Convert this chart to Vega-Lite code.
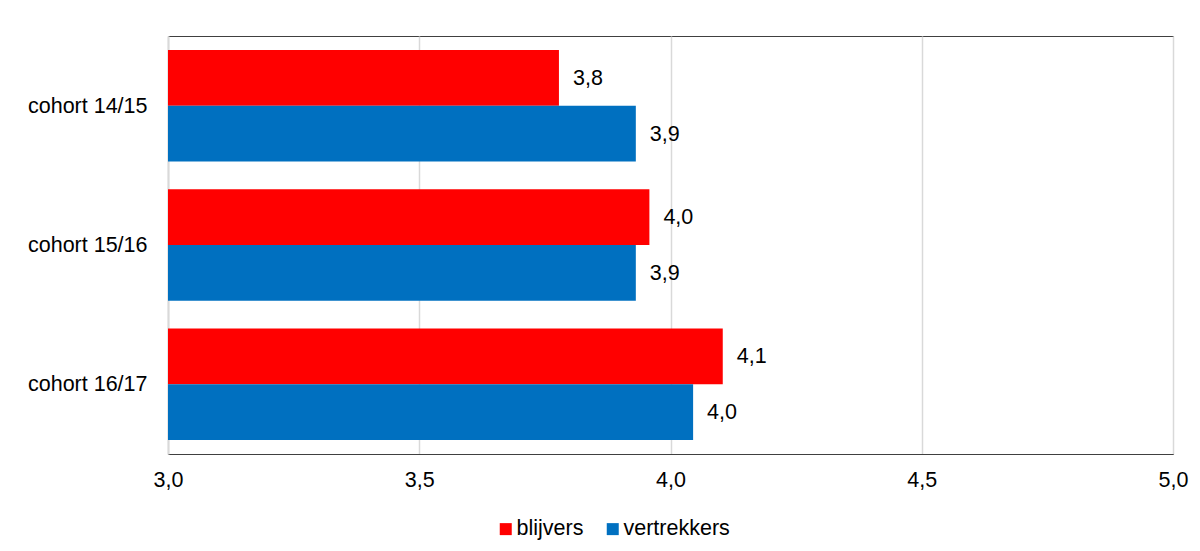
{
  "$schema": "https://vega.github.io/schema/vega-lite/v6.json",
  "autosize": {"type": "none"},
  "width": 1005,
  "height": 418,
  "padding": {"left": 168, "top": 36, "right": 27, "bottom": 97},
  "background": "white",
  "config": {
    "locale": {"number": {"decimal": ",", "thousands": ".", "grouping": [3], "currency": ["€", ""]}},
    "font": "Liberation Sans",
    "view": {"stroke": "#404040", "strokeWidth": 1}
  },
  "data": {
    "values": [
      {"cohort": "cohort 14/15", "groep": "blijvers", "waarde": 3.778},
      {"cohort": "cohort 14/15", "groep": "vertrekkers", "waarde": 3.931},
      {"cohort": "cohort 15/16", "groep": "blijvers", "waarde": 3.958},
      {"cohort": "cohort 15/16", "groep": "vertrekkers", "waarde": 3.931},
      {"cohort": "cohort 16/17", "groep": "blijvers", "waarde": 4.104},
      {"cohort": "cohort 16/17", "groep": "vertrekkers", "waarde": 4.045}
    ]
  },
  "encoding": {
    "y": {
      "field": "cohort",
      "type": "nominal",
      "sort": null,
      "title": null,
      "scale": {"paddingInner": 0.2, "paddingOuter": 0.1},
      "axis": {"ticks": false, "labelPadding": 21, "labelFontSize": 21.5, "labelColor": "#000000", "domainColor": "#D9D9D9", "domainWidth": 2, "labelFont": "Liberation Sans", "labelOffset": 1}
    },
    "yOffset": {"field": "groep", "type": "nominal", "sort": ["blijvers", "vertrekkers"], "scale": {"paddingInner": 0, "paddingOuter": 0}},
    "x": {
      "field": "waarde",
      "type": "quantitative",
      "title": null,
      "scale": {"domain": [3, 5], "zero": false, "nice": false},
      "axis": {"values": [3, 3.5, 4, 4.5, 5], "format": ".1f", "ticks": false, "labelPadding": 15, "labelFontSize": 21.5, "labelColor": "#000000", "domainColor": "#404040", "gridColor": "#D9D9D9", "gridWidth": 1.5, "labelFont": "Liberation Sans", "labelFlush": false}
    }
  },
  "layer": [
    {
      "mark": {"type": "bar", "clip": true},
      "encoding": {
        "color": {
          "field": "groep",
          "type": "nominal",
          "scale": {"domain": ["blijvers", "vertrekkers"], "range": ["#FF0000", "#0070C0"]},
          "legend": {
            "title": null,
            "orient": "none",
            "direction": "horizontal",
            "legendX": 327,
            "legendY": 482,
            "symbolType": "square",
            "symbolSize": 144,
            "symbolStrokeWidth": 0,
            "labelFontSize": 21.5,
            "labelColor": "#000000",
            "labelFont": "Liberation Sans",
            "labelOffset": 0,
            "columnPadding": 18,
            "padding": 0
          }
        }
      }
    },
    {
      "mark": {"type": "text", "align": "left", "baseline": "middle", "dx": 14, "dy": 1, "fontSize": 21.5, "color": "#000000", "font": "Liberation Sans"},
      "encoding": {
        "text": {"field": "waarde", "type": "quantitative", "format": ".1f"}
      }
    }
  ]
}
